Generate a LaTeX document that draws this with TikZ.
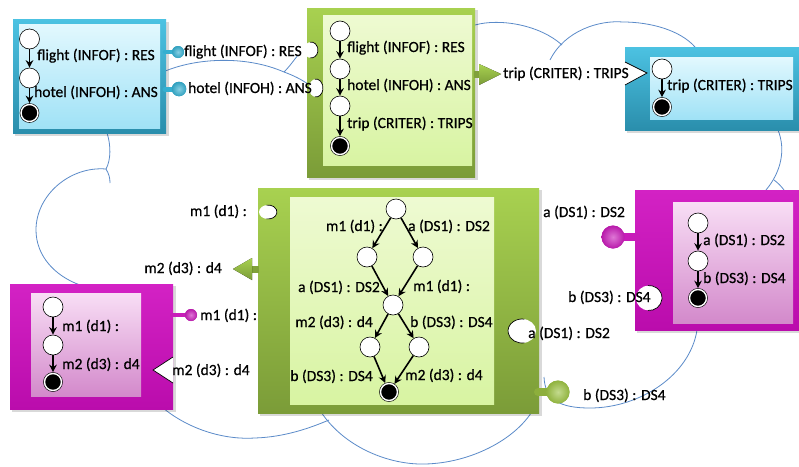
\documentclass[tikz,border=0pt]{standalone}
\usepackage{fontspec}
\setmainfont[FakeBold=0.6]{Carlito}
\usetikzlibrary{arrows.meta,shapes.geometric}
\definecolor{cloudc}{HTML}{5B8BC9}
\definecolor{blueT}{HTML}{4CC2E2}
\definecolor{blueB}{HTML}{2A8EAC}
\definecolor{blueIT}{HTML}{E2F8FE}
\definecolor{blueIB}{HTML}{A0E2F6}
\definecolor{blueball}{HTML}{35AFD0}
\definecolor{greenT}{HTML}{A8D150}
\definecolor{greenB}{HTML}{7B9C38}
\definecolor{greenIT}{HTML}{EEFAD2}
\definecolor{greenIB}{HTML}{D8F4A2}
\definecolor{greenball}{HTML}{9CC243}
\definecolor{magT}{HTML}{D322C4}
\definecolor{magB}{HTML}{BA0CAC}
\definecolor{magIT}{HTML}{F8DEF5}
\definecolor{magIB}{HTML}{D389CB}
\definecolor{magball}{HTML}{C81CB9}
\begin{document}
\begin{tikzpicture}[x=1pt,y=-1pt,
  cloud/.style={draw=cloudc,line width=0.8pt},
  shad/.style={fill=black,opacity=0.15},
  bluefr/.style={top color=blueT,bottom color=blueB},
  bluein/.style={top color=blueIT,bottom color=blueIB},
  greenfr/.style={top color=greenT,bottom color=greenB},
  greenin/.style={top color=greenIT,bottom color=greenIB},
  magfr/.style={top color=magT,bottom color=magB},
  magin/.style={top color=magIT,bottom color=magIB},
  st/.style={circle,draw,line width=0.6pt,fill=white,minimum size=20pt,inner sep=0pt},
  fin/.style={circle,draw,fill=black,line width=0.6pt,double=white,double distance=1.4pt,minimum size=17pt,inner sep=0pt,outer sep=1.3pt},
  arr/.style={line width=1.6pt,-{Stealth[length=7.5pt,width=7.5pt]}},
  lbl/.style={inner sep=0pt,text height=11pt,text depth=3pt,font=\fontsize{15.5}{18}\selectfont},
  ballnode/.style={circle,inner sep=0pt,inner color=#1!60!white,outer color=#1!92!black},
  stem/.style={line width=#1,line cap=round},
  sock/.style={fill=white},
  sockline/.style={draw=black,line width=0.7pt},
  notch/.style={fill=white},
  notchline/.style={draw=black,line width=0.7pt,line join=miter},
  provtri/.style={top color=greenT,bottom color=greenB},
]
\useasboundingbox (0,0) rectangle (799,466);
\fill[white] (0,0) rectangle (799,466);

% ---------- cloud ----------
\draw[cloud] (107,133) .. controls (111,145) and (111,160) .. (106,169);
\draw[cloud] (106,169) .. controls (109,174) and (110,178) .. (110,183);
\draw[cloud] (106,169) .. controls (70,166) and (36,195) .. (36,230) .. controls (36,256) and (55,276) .. (80,285);
\draw[cloud] (163,408) .. controls (190,430) and (225,440) .. (255,438) .. controls (285,437) and (310,428) .. (329,420);
\draw[cloud] (321,412) .. controls (345,448) and (390,465) .. (425,464) .. controls (470,463) and (515,440) .. (533,410);
\draw[cloud] (544,377) .. controls (545,400) and (560,408) .. (590,408) .. controls (640,408) and (690,375) .. (697,330);
\draw[cloud] (778,130) .. controls (786,150) and (781,172) .. (766,190);
\draw[cloud] (774,180) .. controls (778,183) and (781,186) .. (784,190);
\draw[cloud] (475,25) .. controls (500,18) and (540,25) .. (562,45);
\draw[cloud] (550,60) .. controls (565,30) and (600,20) .. (623,22) .. controls (650,22) and (680,30) .. (695,47);
\draw[cloud] (163,72) .. controls (195,58) and (245,55) .. (284,72) .. controls (295,76) and (302,80) .. (308,84);
\draw[cloud] (284,72) .. controls (290,66) and (294,60) .. (298,55);

% ---------- boxes ----------
% top-left blue
\fill[shad] (15,22) rectangle (169,136);
\fill[bluefr] (13,19) rectangle (166,133);
\fill[bluein] (19,24) rectangle (160,128);
% top-middle green
\fill[shad] (309,10) rectangle (478,180);
\fill[greenfr] (307,8) rectangle (475,177);
\fill[greenin] (323,15) rectangle (472,165);
% top-right blue
\fill[shad] (627,49) rectangle (799,133);
\fill[bluefr] (625,47) rectangle (799,130);
\fill[bluein] (650,57) rectangle (793,119);
% center green
\fill[shad] (260,190) rectangle (542,416);
\fill[greenfr] (258,188) rectangle (539,413);
\fill[greenin] (290,197) rectangle (494,404);
% left magenta
\fill[shad] (12,286) rectangle (176,412);
\fill[magfr] (10,284) rectangle (173,409);
\fill[magin] (31,293) rectangle (141,396);
% right magenta
\fill[shad] (637,192) rectangle (799,333);
\fill[magfr] (635,190) rectangle (799,330);
\fill[magin] (673,202) rectangle (793,323);

% ---------- sockets (required, round) ----------
\fill[sock] (311,50) ellipse [x radius=7,y radius=8];
\draw[sockline] (311,50) ++(100:7 and 8) arc [start angle=100,end angle=-100,x radius=7,y radius=8];
\fill[sock] (316,88) ellipse [x radius=7,y radius=9];
\draw[sockline] (316,88) ++(100:7 and 9) arc [start angle=100,end angle=-100,x radius=7,y radius=9];
\fill[sock] (268,212) ellipse [x radius=9,y radius=7];
\draw[sockline] (268,212) ++(100:9 and 7) arc [start angle=100,end angle=-100,x radius=9,y radius=7];
\fill[sock] (649,298) ellipse [x radius=13,y radius=12.5];
\draw[sockline] (649,298) ++(95:13 and 12.5) arc [start angle=95,end angle=-95,x radius=13,y radius=12.5];
\fill[sock] (522,331) ellipse [x radius=14,y radius=12];
\draw[sockline] (522,331) ++(80:14 and 12) arc [start angle=80,end angle=280,x radius=14,y radius=12];

% ---------- notches (required, triangular) ----------
\fill[notch] (625,62) -- (647,73) -- (625,85) -- cycle;
\draw[notchline] (625,62) -- (647,73) -- (625,85);
\fill[notch] (173,357) -- (153,370) -- (173,383) -- cycle;
\draw[notchline] (173,357) -- (153,370) -- (173,383);

% ---------- provided triangles (green) ----------
\fill[greenB!90!greenT] (474,70.5) rectangle (480,77.5);
\fill[provtri] (479,64) -- (501,74) -- (479,85) -- cycle;
\fill[greenB!90!greenT] (251,265.5) rectangle (259,272.5);
\fill[provtri] (252,258) -- (233,269) -- (252,280) -- cycle;

% ---------- plugs (balls) ----------
\coordinate (p1s) at (165,52);
\coordinate (p2s) at (165,89);
\coordinate (p3s) at (172,315);
\coordinate (p4s) at (636,237);
\coordinate (p5s) at (538,392);
\node[ballnode=blueball,minimum size=12pt] (p1) at (178,52) {};
\node[ballnode=blueball,minimum size=14.5pt] (p2) at (179,89) {};
\node[ballnode=magball,minimum size=12pt] (p3) at (191,315) {};
\node[ballnode=magball,minimum size=23pt] (p4) at (613,237) {};
\node[ballnode=greenball,minimum size=23pt] (p5) at (558,392) {};
\draw[stem=4.5pt,blueball] (p1s) -- (p1.west);
\draw[stem=5pt,blueball] (p2s) -- (p2.west);
\draw[stem=4pt,magball] (p3s) -- (p3.west);
\draw[stem=8pt,magball] (p4s) -- (p4.east);
\draw[stem=8pt,greenball!90!black] (p5s) -- (p5.west);
\node[ballnode=blueball,minimum size=12pt] (p1b) at (p1) {};
\node[ballnode=blueball,minimum size=14.5pt] (p2b) at (p2) {};
\node[ballnode=magball,minimum size=12pt] (p3b) at (p3) {};
\node[ballnode=magball,minimum size=23pt] (p4b) at (p4) {};
\node[ballnode=greenball,minimum size=23pt] (p5b) at (p5) {};

% ---------- states: top-left blue ----------
\node[st] (b1a) at (29.5,39) {};
\node[st] (b1b) at (29.5,78) {};
\node[fin] (b1f) at (29.5,113) {};
\draw[arr] (b1a) -- (b1b);
\draw[arr] (b1b) -- (b1f);
\node[lbl,anchor=west] (b1l1) at (37,56) {flight (INFOF) : RES};
\node[lbl,anchor=west] (b1l2) at (34,93) {hotel (INFOH) : ANS};

% ---------- states: top-middle green ----------
\node[st] (g1a) at (340,31) {};
\node[st] (g1b) at (340,69) {};
\node[st] (g1c) at (340,106) {};
\node[fin] (g1f) at (340,146) {};
\draw[arr] (g1a) -- (g1b);
\draw[arr] (g1b) -- (g1c);
\draw[arr] (g1c) -- (g1f);
\node[lbl,anchor=west] (g1l1) at (347,48) {flight (INFOF) : RES};
\node[lbl,anchor=west] (g1l2) at (347,86) {hotel (INFOH) : ANS};
\node[lbl,anchor=west] (g1l3) at (347,124) {trip (CRITER) : TRIPS};

% ---------- states: top-right blue ----------
\node[st] (b2a) at (662,69) {};
\node[fin] (b2f) at (662,107) {};
\draw[arr] (b2a) -- (b2f);
\node[lbl,anchor=west] (b2l1) at (667,86) {trip (CRITER) : TRIPS};

% ---------- states: center green ----------
\node[st] (ct) at (396,209) {};
\node[st] (cl1) at (367,257) {};
\node[st] (cr1) at (423,257) {};
\node[st] (cm) at (393,305) {};
\node[st] (cl2) at (370,347) {};
\node[st] (cr2) at (419,347) {};
\node[fin] (cf) at (389,392) {};
\draw[arr] (ct) -- (cl1);
\draw[arr] (ct) -- (cr1);
\draw[arr] (cl1) -- (cm);
\draw[arr] (cr1) -- (cm);
\draw[arr] (cm) -- (cl2);
\draw[arr] (cm) -- (cr2);
\draw[arr] (cl2) -- (cf);
\draw[arr] (cr2) -- (cf);
\node[lbl,anchor=east] (cla) at (383,227) {m1 (d1) :};
\node[lbl,anchor=west] (clb) at (408,227) {a (DS1) : DS2};
\node[lbl,anchor=east] (clc) at (380,288) {a (DS1) : DS2};
\node[lbl,anchor=west] (cld) at (413,287) {m1 (d1) :};
\node[lbl,anchor=east] (cle) at (373,323) {m2 (d3) : d4};
\node[lbl,anchor=west] (clf) at (410,323) {b (DS3) : DS4};
\node[lbl,anchor=east] (clg) at (373,377) {b (DS3) : DS4};
\node[lbl,anchor=west] (clh) at (405,376) {m2 (d3) : d4};

% ---------- states: left magenta ----------
\node[st] (m1a) at (53,307) {};
\node[st] (m1b) at (53,345) {};
\node[fin] (m1f) at (53,382) {};
\draw[arr] (m1a) -- (m1b);
\draw[arr] (m1b) -- (m1f);
\node[lbl,anchor=west] (m1l1) at (62,327) {m1 (d1) :};
\node[lbl,anchor=west] (m1l2) at (62,365) {m2 (d3) : d4};

% ---------- states: right magenta ----------
\node[st] (m2a) at (698,223) {};
\node[st] (m2b) at (698,261) {};
\node[fin] (m2f) at (698,298) {};
\draw[arr] (m2a) -- (m2b);
\draw[arr] (m2b) -- (m2f);
\node[lbl,anchor=west] (m2l1) at (703,241) {a (DS1) : DS2};
\node[lbl,anchor=west] (m2l2) at (703,279) {b (DS3) : DS4};

% ---------- interface labels ----------
\node[lbl,anchor=west] (i1) at (184,52) {flight (INFOF) : RES};
\node[lbl,anchor=west] (i2) at (188,89) {hotel (INFOH) : ANS};
\node[lbl,anchor=west] (i3) at (503,74) {trip (CRITER) : TRIPS};
\node[lbl,anchor=east] (i4) at (247,212) {m1 (d1) :};
\node[lbl,anchor=east] (i5) at (222,269) {m2 (d3) : d4};
\node[lbl,anchor=west] (i6) at (200,316) {m1 (d1) :};
\node[lbl,anchor=west] (i7) at (172,371) {m2 (d3) : d4};
\node[lbl,anchor=west] (i8) at (543,213) {a (DS1) : DS2};
\node[lbl,anchor=west] (i9) at (568,298) {b (DS3) : DS4};
\node[lbl,anchor=west] (i10) at (528,334) {a (DS1) : DS2};
\node[lbl,anchor=west] (i11) at (583,396) {b (DS3) : DS4};
\end{tikzpicture}
\end{document}
